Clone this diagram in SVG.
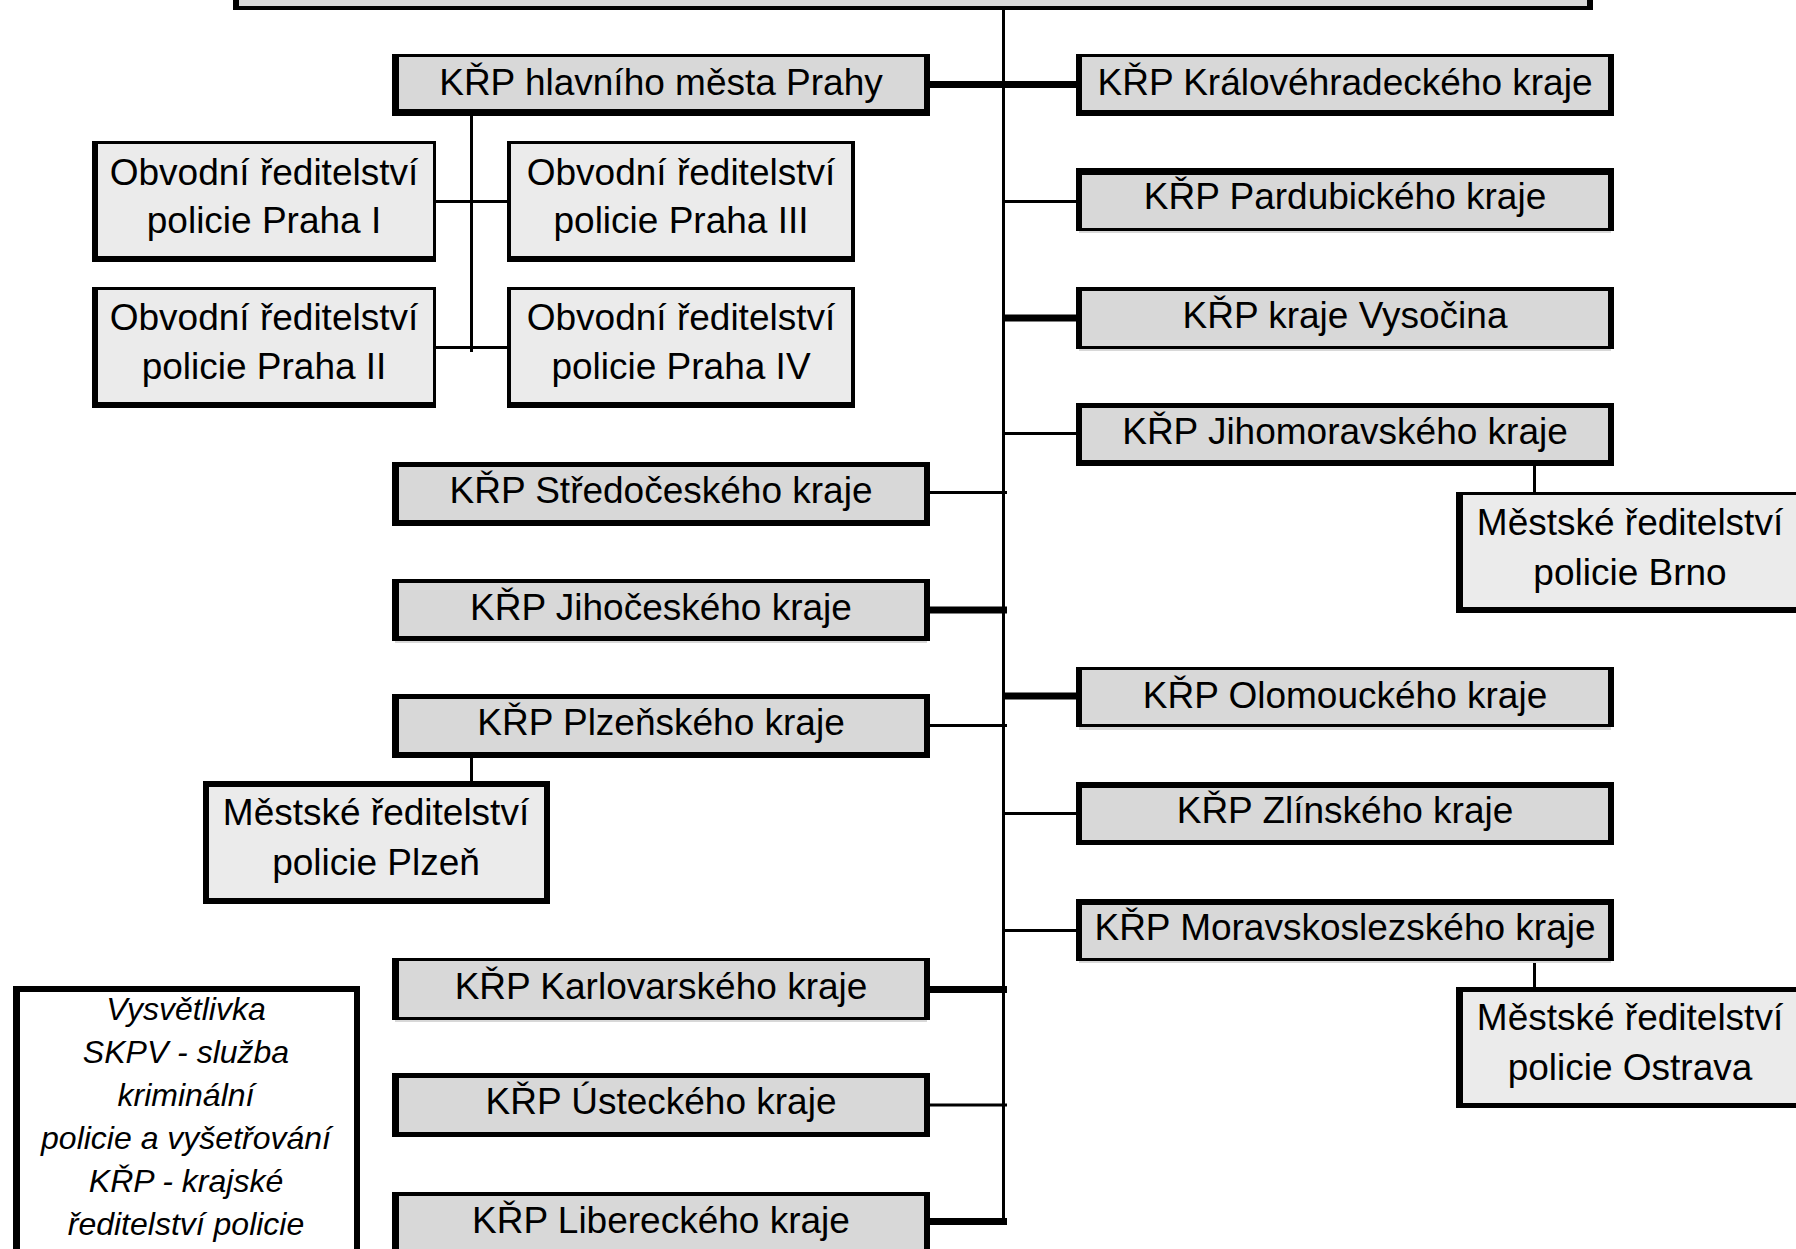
<svg xmlns="http://www.w3.org/2000/svg" width="1796" height="1249" viewBox="0 0 1796 1249">
<style>
.bd{fill:#000}
.fk{fill:#d8d8d8}
.fs{fill:#ebebeb}
.fw{fill:#fff}
.t{font-family:"Liberation Sans",Arial,sans-serif;font-size:37px;fill:#000;text-anchor:middle}
.li{font-family:"Liberation Sans",Arial,sans-serif;font-size:32px;font-style:italic;fill:#000;text-anchor:middle}
.thin{stroke:#000;stroke-width:3;fill:none}
.thick{stroke:#000;stroke-width:7;fill:none}
</style>
<rect width="1796" height="1249" fill="#fff"/>
<g id="connectors">
<line class="thin" x1="1003.5" y1="8" x2="1003.5" y2="1224"/>
<line class="thick" x1="928" y1="84.5" x2="1078" y2="84.5"/>
<line class="thin" x1="1005" y1="201.5" x2="1078" y2="201.5"/>
<line class="thick" x1="1002" y1="318" x2="1078" y2="318"/>
<line class="thin" x1="1005" y1="433.5" x2="1078" y2="433.5"/>
<line class="thick" x1="1002" y1="696" x2="1078" y2="696"/>
<line class="thin" x1="1005" y1="813.5" x2="1078" y2="813.5"/>
<line class="thin" x1="1005" y1="930.5" x2="1078" y2="930.5"/>
<line class="thin" x1="928" y1="492.5" x2="1007" y2="492.5"/>
<line class="thick" x1="928" y1="610" x2="1007" y2="610"/>
<line class="thin" x1="928" y1="725.5" x2="1007" y2="725.5"/>
<line class="thick" x1="928" y1="989.5" x2="1007" y2="989.5"/>
<line class="thin" x1="928" y1="1105" x2="1007" y2="1105"/>
<line class="thick" x1="928" y1="1221.5" x2="1007" y2="1221.5"/>
<line class="thin" x1="471.5" y1="114" x2="471.5" y2="352"/>
<line class="thin" x1="434" y1="201.5" x2="514" y2="201.5"/>
<line class="thin" x1="434" y1="347.5" x2="509" y2="347.5"/>
<line class="thin" x1="471.5" y1="756" x2="471.5" y2="783"/>
<line class="thin" x1="1534.5" y1="464" x2="1534.5" y2="494"/>
<line class="thin" x1="1534.5" y1="960" x2="1534.5" y2="989"/>
</g>
<g id="n-top">
<rect class="bd" x="233" y="-10" width="1360" height="20"/>
<rect class="fk" x="239" y="-10" width="1348" height="16"/>
</g>
<g id="n-praha">
<rect class="bd" x="392" y="54" width="538" height="62"/>
<rect class="fk" x="399" y="57" width="525" height="52"/>
<text class="t" x="661" y="95">KŘP hlavního města Prahy</text>
</g>
<g id="n-obv1">
<rect class="bd" x="92" y="141" width="344" height="121"/>
<rect class="fs" x="98" y="144" width="335" height="112"/>
<text class="t" x="264" y="185">Obvodní ředitelství</text>
<text class="t" x="264" y="233">policie Praha I</text>
</g>
<g id="n-obv3">
<rect class="bd" x="507" y="141" width="348" height="121"/>
<rect class="fs" x="511" y="144" width="340" height="112"/>
<text class="t" x="681" y="185">Obvodní ředitelství</text>
<text class="t" x="681" y="233">policie Praha III</text>
</g>
<g id="n-obv2">
<rect class="bd" x="92" y="287" width="344" height="121"/>
<rect class="fs" x="98" y="290" width="335" height="112"/>
<text class="t" x="264" y="330">Obvodní ředitelství</text>
<text class="t" x="264" y="379">policie Praha II</text>
</g>
<g id="n-obv4">
<rect class="bd" x="507" y="287" width="348" height="121"/>
<rect class="fs" x="511" y="290" width="340" height="112"/>
<text class="t" x="681" y="330">Obvodní ředitelství</text>
<text class="t" x="681" y="379">policie Praha IV</text>
</g>
<g id="n-stredocesky">
<rect class="bd" x="392" y="462" width="538" height="64"/>
<rect class="fk" x="399" y="467" width="525" height="53"/>
<text class="t" x="661" y="503">KŘP Středočeského kraje</text>
</g>
<g id="n-jihocesky">
<rect class="bd" x="392" y="579" width="538" height="62"/>
<rect class="fk" x="399" y="583" width="525" height="53"/>
<rect class="fk" x="395" y="641" width="532" height="2"/>
<text class="t" x="661" y="620">KŘP Jihočeského kraje</text>
</g>
<g id="n-plzensky">
<rect class="bd" x="392" y="694" width="538" height="64"/>
<rect class="fk" x="399" y="699" width="525" height="53"/>
<text class="t" x="661" y="735">KŘP Plzeňského kraje</text>
</g>
<g id="n-plzen">
<rect class="bd" x="203" y="781" width="347" height="123"/>
<rect class="fs" x="209" y="787" width="335" height="111"/>
<text class="t" x="376" y="825">Městské ředitelství</text>
<text class="t" x="376" y="875">policie Plzeň</text>
</g>
<g id="n-karlovarsky">
<rect class="bd" x="392" y="958" width="538" height="62"/>
<rect class="fk" x="399" y="961" width="525" height="56"/>
<rect class="fk" x="395" y="1020" width="532" height="2"/>
<text class="t" x="661" y="999">KŘP Karlovarského kraje</text>
</g>
<g id="n-ustecky">
<rect class="bd" x="392" y="1073" width="538" height="64"/>
<rect class="fk" x="399" y="1078" width="525" height="54"/>
<text class="t" x="661" y="1114">KŘP Ústeckého kraje</text>
</g>
<g id="n-liberecky">
<rect class="bd" x="392" y="1192" width="538" height="80"/>
<rect class="fk" x="399" y="1196" width="525" height="80"/>
<text class="t" x="661" y="1233">KŘP Libereckého kraje</text>
</g>
<g id="n-kralovehradecky">
<rect class="bd" x="1076" y="54" width="538" height="62"/>
<rect class="fk" x="1082" y="57" width="526" height="53"/>
<text class="t" x="1345" y="95">KŘP Královéhradeckého kraje</text>
</g>
<g id="n-pardubicky">
<rect class="bd" x="1076" y="168" width="538" height="63"/>
<rect class="fk" x="1082" y="175" width="526" height="53"/>
<rect class="fk" x="1079" y="231" width="532" height="2"/>
<text class="t" x="1345" y="209">KŘP Pardubického kraje</text>
</g>
<g id="n-vysocina">
<rect class="bd" x="1076" y="287" width="538" height="62"/>
<rect class="fk" x="1082" y="291" width="526" height="55"/>
<rect class="fk" x="1079" y="349" width="532" height="2"/>
<text class="t" x="1345" y="328">KŘP kraje Vysočina</text>
</g>
<g id="n-jihomoravsky">
<rect class="bd" x="1076" y="403" width="538" height="63"/>
<rect class="fk" x="1082" y="408" width="526" height="52"/>
<text class="t" x="1345" y="444">KŘP Jihomoravského kraje</text>
</g>
<g id="n-brno">
<rect class="bd" x="1456" y="492" width="360" height="121"/>
<rect class="fs" x="1463" y="495" width="360" height="112"/>
<text class="t" x="1630" y="535">Městské ředitelství</text>
<text class="t" x="1630" y="585">policie Brno</text>
</g>
<g id="n-olomoucky">
<rect class="bd" x="1076" y="667" width="538" height="60"/>
<rect class="fk" x="1082" y="670" width="526" height="54"/>
<rect class="fk" x="1079" y="727" width="532" height="3"/>
<text class="t" x="1345" y="708">KŘP Olomouckého kraje</text>
</g>
<g id="n-zlinsky">
<rect class="bd" x="1076" y="782" width="538" height="63"/>
<rect class="fk" x="1082" y="788" width="526" height="52"/>
<text class="t" x="1345" y="823">KŘP Zlínského kraje</text>
</g>
<g id="n-moravskoslezsky">
<rect class="bd" x="1076" y="899" width="538" height="62"/>
<rect class="fk" x="1082" y="905" width="526" height="53"/>
<rect class="fk" x="1079" y="961" width="532" height="2"/>
<text class="t" x="1345" y="940">KŘP Moravskoslezského kraje</text>
</g>
<g id="n-ostrava">
<rect class="bd" x="1456" y="987" width="360" height="121"/>
<rect class="fs" x="1463" y="992" width="360" height="111"/>
<text class="t" x="1630" y="1030">Městské ředitelství</text>
<text class="t" x="1630" y="1080">policie Ostrava</text>
</g>
<g id="n-legend">
<rect class="bd" x="13" y="986" width="347" height="290"/>
<rect class="fw" x="20" y="992" width="334" height="290"/>
<text class="li" x="186" y="1020">Vysvětlivka</text>
<text class="li" x="186" y="1063">SKPV - služba</text>
<text class="li" x="186" y="1106">kriminální</text>
<text class="li" x="186" y="1149">policie a vyšetřování</text>
<text class="li" x="186" y="1192">KŘP - krajské</text>
<text class="li" x="186" y="1235">ředitelství policie</text>
</g>
</svg>
